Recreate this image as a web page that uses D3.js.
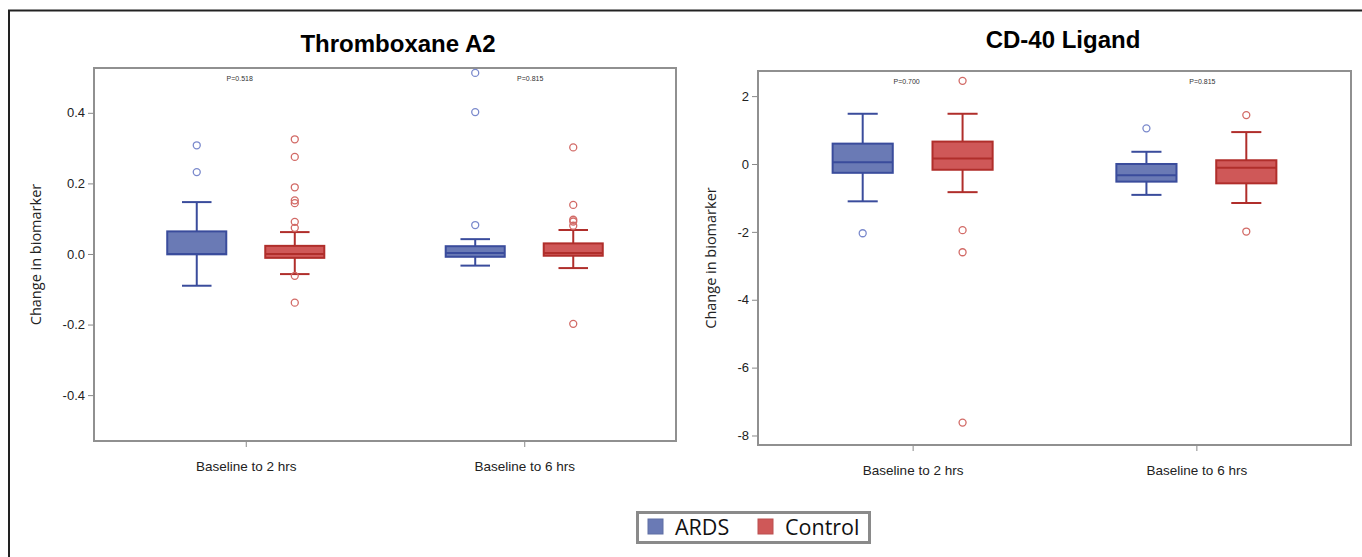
<!DOCTYPE html>
<html>
<head>
<meta charset="utf-8">
<script src="https://cdn.jsdelivr.net/npm/d3@7"></script>
<style>
  body { margin: 0; background: #fff; }
  svg { display: block; }
</style>
</head>
<body>
<div id="chart"></div>
<script>
// categories
const groups = ["Baseline to 2 hrs", "Baseline to 6 hrs"];
const series = ["ARDS", "Control"];

// box stats per group: [whiskerLow, q1, median, q3, whiskerHigh]
const txaArds = [[-0.090, -0.001, 0.000, 0.064, 0.147], [-0.033, -0.008, 0.003, 0.022, 0.042]];
const txaControl = [[-0.057, -0.011, 0.000, 0.023, 0.062], [-0.040, -0.005, 0.003, 0.030, 0.068]];
const txaArdsOut = [[0.308, 0.232], [0.513, 0.402, 0.082]];
const txaControlOut = [[0.325, 0.275, 0.189, 0.152, 0.144, 0.091, 0.074, -0.062, -0.138],
                       [0.302, 0.139, 0.097, 0.092, 0.080, -0.198]];
const txaPvals = ["P=0.518", "P=0.815"];
const txaTicks = [-0.4, -0.2, 0.0, 0.2, 0.4];
const txaDomain = [-0.53, 0.527];

const cdArds = [[-1.10, -0.26, 0.05, 0.60, 1.48], [-0.91, -0.52, -0.33, 0.00, 0.36]];
const cdControl = [[-0.83, -0.17, 0.16, 0.66, 1.48], [-1.15, -0.57, -0.11, 0.11, 0.94]];
const cdArdsOut = [[-2.04], [1.05]];
const cdControlOut = [[2.45, -1.95, -2.60, -7.62], [1.44, -1.99]];
const cdPvals = ["P=0.700", "P=0.815"];
const cdTicks = [-8, -6, -4, -2, 0, 2];
const cdDomain = [-8.28, 2.74];

const fills = { ARDS: "#6a7ab5", Control: "#cf5858" };
const strokes = { ARDS: "#3a4c9c", Control: "#b02e2b" };
const dots = { ARDS: "#7a89cc", Control: "#d26a66" };

const W = 1362, H = 557;
const svg = d3.select("#chart").append("svg").attr("width", W).attr("height", H);

// outer frame (top & left edges visible)
svg.append("path").attr("d", `M9,${H}V10.5H${W}`)
  .attr("fill", "none").attr("stroke", "#222").attr("stroke-width", 2);

// plain hyphen for negatives, like the original
const hyph = f => d => f(d).replace("\u2212", "-");

function drawPanel(p) {
  const x = d3.scalePoint().domain(groups).range([p.x0, p.x1]).padding(0.545);
  const step = x.step();
  const sx = d3.scalePoint().domain(series).range([-0.176 * step, 0.176 * step]);
  const bw = 0.212 * step;
  const y = d3.scaleLinear().domain(p.domain).range([p.y1, p.y0]);
  const g = svg.append("g");

  // title
  g.append("text").attr("x", p.titleX).attr("y", p.titleY)
    .attr("text-anchor", "middle").style("font", "bold 24px 'Liberation Sans', Arial, sans-serif")
    .attr("fill", "#000").text(p.title);

  // y axis
  const ya = g.append("g").attr("transform", `translate(${p.x0},0)`)
    .call(d3.axisLeft(y).tickValues(p.ticks).tickSize(6).tickPadding(3)
      .tickFormat(hyph(p.fmt)));
  ya.select(".domain").remove();
  ya.selectAll("line").attr("stroke", "#888");
  ya.selectAll("text").attr("fill", "#222").style("font", "13px 'Liberation Sans', Arial, sans-serif");

  // x axis
  const xa = g.append("g").attr("transform", `translate(0,${p.y1})`)
    .call(d3.axisBottom(x).tickSize(6).tickPadding(14));
  xa.select(".domain").remove();
  xa.selectAll("line").attr("stroke", "#888");
  xa.selectAll("text").attr("fill", "#222").style("font", "13.5px 'Liberation Sans', Arial, sans-serif");

  // y label
  g.append("text")
    .attr("transform", `translate(${p.labelX},${(p.y0 + p.y1) / 2}) rotate(-90)`)
    .attr("text-anchor", "middle").attr("dy", "0.35em")
    .style("font", "14.5px 'Open Sans', sans-serif").attr("fill", "#222")
    .text("Change in biomarker");

  // frame
  g.append("rect").attr("x", p.x0).attr("y", p.y0)
    .attr("width", p.x1 - p.x0).attr("height", p.y1 - p.y0)
    .attr("fill", "none").attr("stroke", "#909090").attr("stroke-width", 2);

  // p-values
  g.selectAll(".pval").data(p.pvals).join("text")
    .attr("x", (d, i) => x(groups[i]) + (i === 0 ? -6 : 6))
    .attr("y", p.y0 + 13)
    .attr("text-anchor", "middle").style("font", "7px 'Liberation Sans', Arial, sans-serif")
    .attr("fill", "#333").text(d => d);

  const sets = [
    { s: "ARDS", stats: p.ardsStats, out: p.ardsOut },
    { s: "Control", stats: p.ctrlStats, out: p.ctrlOut }
  ];
  sets.forEach(set => {
    set.stats.forEach((st, i) => {
      const cx = x(groups[i]) + sx(set.s);
      const [lo, q1, med, q3, hi] = st;
      const bg = g.append("g").attr("stroke", strokes[set.s]).attr("stroke-width", 2);
      bg.append("line").attr("x1", cx).attr("x2", cx).attr("y1", y(hi)).attr("y2", y(q3));
      bg.append("line").attr("x1", cx).attr("x2", cx).attr("y1", y(q1)).attr("y2", y(lo));
      bg.append("line").attr("x1", cx - bw / 4).attr("x2", cx + bw / 4).attr("y1", y(hi)).attr("y2", y(hi));
      bg.append("line").attr("x1", cx - bw / 4).attr("x2", cx + bw / 4).attr("y1", y(lo)).attr("y2", y(lo));
      bg.append("rect").attr("x", cx - bw / 2).attr("width", bw)
        .attr("y", y(q3)).attr("height", Math.max(1, y(q1) - y(q3)))
        .attr("fill", fills[set.s]);
      bg.append("line").attr("x1", cx - bw / 2).attr("x2", cx + bw / 2).attr("y1", y(med)).attr("y2", y(med));

      g.selectAll(null).data(set.out[i]).join("circle")
        .attr("cx", cx).attr("cy", d => y(d)).attr("r", 3.5)
        .attr("fill", "none").attr("stroke", dots[set.s]).attr("stroke-width", 1.3);
    });
  });
}

drawPanel({
  title: "Thromboxane A2", titleX: 398, titleY: 52,
  x0: 94, x1: 676, y0: 68, y1: 441, labelX: 36,
  domain: txaDomain, ticks: txaTicks, fmt: d3.format(".1f"),
  ardsStats: txaArds, ctrlStats: txaControl, ardsOut: txaArdsOut, ctrlOut: txaControlOut,
  pvals: txaPvals
});

drawPanel({
  title: "CD-40 Ligand", titleX: 1063, titleY: 48,
  x0: 758, x1: 1351, y0: 71, y1: 445, labelX: 711,
  domain: cdDomain, ticks: cdTicks, fmt: d3.format("d"),
  ardsStats: cdArds, ctrlStats: cdControl, ardsOut: cdArdsOut, ctrlOut: cdControlOut,
  pvals: cdPvals
});

// legend
const leg = svg.append("g");
leg.append("rect").attr("x", 637.5).attr("y", 512.5).attr("width", 232).attr("height", 30)
  .attr("fill", "#fff").attr("stroke", "#8a8a8a").attr("stroke-width", 3);
const items = leg.selectAll(".item").data(series).join("g")
  .attr("transform", (d, i) => `translate(${i === 0 ? 648 : 758},519)`);
items.append("rect").attr("width", 15).attr("height", 15)
  .attr("fill", d => fills[d]).attr("stroke", d => d3.color(fills[d]).darker(0.3)).attr("stroke-width", 1);
items.append("text").attr("x", 27).attr("y", 15.5)
  .style("font", "21.5px 'Open Sans', sans-serif").attr("fill", "#111").text(d => d);
</script>
</body>
</html>
